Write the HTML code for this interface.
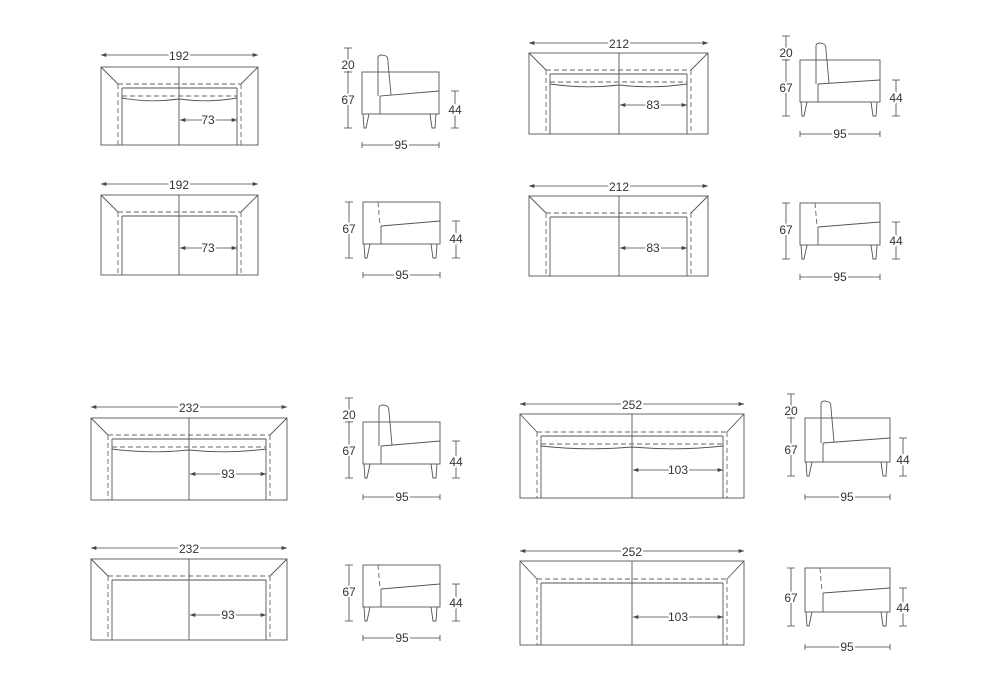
<!DOCTYPE html>
<html><head><meta charset="utf-8"><style>
html,body{margin:0;padding:0;background:#fff}
svg{display:block}
text{font-family:"Liberation Sans",sans-serif;font-size:12px;fill:#333;text-anchor:middle;stroke:#fff;stroke-width:4px;paint-order:stroke;stroke-linejoin:round}
.l{fill:none;stroke:#555;stroke-width:0.9}
.d{fill:none;stroke:#666;stroke-width:0.9;stroke-dasharray:5 3}
.m{fill:none;stroke:#444;stroke-width:0.8}
</style></head><body>
<svg width="1000" height="700" viewBox="0 0 1000 700" xmlns="http://www.w3.org/2000/svg">
<defs>
<marker id="a" viewBox="0 0 8 6" refX="8" refY="3" markerWidth="7" markerHeight="5" orient="auto-start-reverse"><path d="M0 0 L8 3 L0 6 z" fill="#444"/></marker>
</defs>

<!-- A -->
<g>
<rect class="l" x="101" y="67" width="157" height="78"/>
<path class="l" d="M101 67 L118 84 M258 67 L241 84 M122 88 V145 M237 88 V145 M122 88 H237 M179 67 V145"/>
<path class="d" d="M118 84 V145 M241 84 V145 M118 84 H241 M122 96 H237"/>
<path class="l" d="M122 98 Q150 103 179 99 Q208 103 237 98"/>
<line class="m" x1="101" y1="55" x2="258" y2="55" marker-start="url(#a)" marker-end="url(#a)"/>
<text x="179" y="60">192</text>
<line class="m" x1="180" y1="120" x2="237" y2="120" marker-start="url(#a)" marker-end="url(#a)"/>
<text x="208" y="124">73</text>
</g>
<!-- B -->
<g>
<rect class="l" x="101" y="195" width="157" height="80"/>
<path class="l" d="M101 195 L118 212 M258 195 L241 212 M122 216 V275 M237 216 V275 M122 216 H237 M179 195 V275"/>
<path class="d" d="M118 212 V275 M241 212 V275 M118 212 H241"/>
<line class="m" x1="101" y1="184" x2="258" y2="184" marker-start="url(#a)" marker-end="url(#a)"/>
<text x="179" y="189">192</text>
<line class="m" x1="180" y1="248" x2="237" y2="248" marker-start="url(#a)" marker-end="url(#a)"/>
<text x="208" y="252">73</text>
</g>
<!-- C -->
<g>
<rect class="l" x="529" y="53" width="179" height="81"/>
<path class="l" d="M529 53 L546 70 M708 53 L691 70 M550 74 V134 M687 74 V134 M550 74 H687 M619 53 V134"/>
<path class="d" d="M546 70 V134 M691 70 V134 M546 70 H691 M550 82 H687"/>
<path class="l" d="M550 84 Q585 89 619 85 Q653 89 687 84"/>
<line class="m" x1="529" y1="43" x2="708" y2="43" marker-start="url(#a)" marker-end="url(#a)"/>
<text x="619" y="48">212</text>
<line class="m" x1="620" y1="105" x2="687" y2="105" marker-start="url(#a)" marker-end="url(#a)"/>
<text x="653" y="109">83</text>
</g>
<!-- D -->
<g>
<rect class="l" x="529" y="196" width="179" height="80"/>
<path class="l" d="M529 196 L546 213 M708 196 L691 213 M550 217 V276 M687 217 V276 M550 217 H687 M619 196 V276"/>
<path class="d" d="M546 213 V276 M691 213 V276 M546 213 H691"/>
<line class="m" x1="529" y1="186" x2="708" y2="186" marker-start="url(#a)" marker-end="url(#a)"/>
<text x="619" y="191">212</text>
<line class="m" x1="620" y1="248" x2="687" y2="248" marker-start="url(#a)" marker-end="url(#a)"/>
<text x="653" y="252">83</text>
</g>
<!-- E -->
<g>
<rect class="l" x="91" y="418" width="196" height="82"/>
<path class="l" d="M91 418 L108 435 M287 418 L270 435 M112 439 V500 M266 439 V500 M112 439 H266 M189 418 V500"/>
<path class="d" d="M108 435 V500 M270 435 V500 M108 435 H270 M112 447 H266"/>
<path class="l" d="M112 449 Q150 454 189 450 Q228 454 266 449"/>
<line class="m" x1="91" y1="407" x2="287" y2="407" marker-start="url(#a)" marker-end="url(#a)"/>
<text x="189" y="412">232</text>
<line class="m" x1="190" y1="474" x2="266" y2="474" marker-start="url(#a)" marker-end="url(#a)"/>
<text x="228" y="478">93</text>
</g>
<!-- F -->
<g>
<rect class="l" x="91" y="559" width="196" height="81"/>
<path class="l" d="M91 559 L108 576 M287 559 L270 576 M112 580 V640 M266 580 V640 M112 580 H266 M189 559 V640"/>
<path class="d" d="M108 576 V640 M270 576 V640 M108 576 H270"/>
<line class="m" x1="91" y1="548" x2="287" y2="548" marker-start="url(#a)" marker-end="url(#a)"/>
<text x="189" y="553">232</text>
<line class="m" x1="190" y1="615" x2="266" y2="615" marker-start="url(#a)" marker-end="url(#a)"/>
<text x="228" y="619">93</text>
</g>
<!-- G -->
<g>
<rect class="l" x="520" y="414" width="224" height="84"/>
<path class="l" d="M520 414 L537 432 M744 414 L727 432 M541 436 V498 M723 436 V498 M541 436 H723 M632 414 V498"/>
<path class="d" d="M537 432 V498 M727 432 V498 M537 432 H727 M541 444 H723"/>
<path class="l" d="M541 446 Q586 451 632 447 Q678 451 723 446"/>
<line class="m" x1="520" y1="404" x2="744" y2="404" marker-start="url(#a)" marker-end="url(#a)"/>
<text x="632" y="409">252</text>
<line class="m" x1="633" y1="470" x2="723" y2="470" marker-start="url(#a)" marker-end="url(#a)"/>
<text x="678" y="474">103</text>
</g>
<!-- H -->
<g>
<rect class="l" x="520" y="561" width="224" height="84"/>
<path class="l" d="M520 561 L537 579 M744 561 L727 579 M541 583 V645 M723 583 V645 M541 583 H723 M632 561 V645"/>
<path class="d" d="M537 579 V645 M727 579 V645 M537 579 H727"/>
<line class="m" x1="520" y1="551" x2="744" y2="551" marker-start="url(#a)" marker-end="url(#a)"/>
<text x="632" y="556">252</text>
<line class="m" x1="633" y1="617" x2="723" y2="617" marker-start="url(#a)" marker-end="url(#a)"/>
<text x="678" y="621">103</text>
</g>

<!-- side views with back -->
<g transform="translate(362,72)">
<rect class="l" x="0" y="0" width="77" height="42"/>
<path class="l" d="M16 24 L16 -14 Q16 -17 20 -17 L24 -16 Q26 -15 26 -10 L29 23 M18 24 L18 42 M18 24 L77 19 M1 42 L2 56 L4 56 L7 42 M68 42 L70 56 L73 56 L74 42"/>
<path class="m" d="M-14 -24 V56 M-18 -24 H-10 M-18 0 H-10 M-18 56 H-10 M93 19 V56 M89 19 H97 M89 56 H97 M0 73 H77 M0 70 V76 M77 70 V76"/>
<text x="-14" y="-3">20</text><text x="-14" y="32">67</text><text x="93" y="42">44</text><text x="39" y="77">95</text>
</g>
<g transform="translate(800,60)">
<rect class="l" x="0" y="0" width="80" height="42"/>
<path class="l" d="M16 24 L16 -14 Q16 -17 20 -17 L24 -16 Q26 -15 26 -10 L29 23 M18 24 L18 42 M18 24 L80 20 M1 42 L2 56 L4 56 L7 42 M71 42 L73 56 L76 56 L77 42"/>
<path class="m" d="M-14 -24 V56 M-18 -24 H-10 M-18 0 H-10 M-18 56 H-10 M96 20 V56 M92 20 H100 M92 56 H100 M0 74 H80 M0 71 V77 M80 71 V77"/>
<text x="-14" y="-3">20</text><text x="-14" y="32">67</text><text x="96" y="42">44</text><text x="40" y="78">95</text>
</g>
<g transform="translate(363,422)">
<rect class="l" x="0" y="0" width="77" height="42"/>
<path class="l" d="M16 24 L16 -14 Q16 -17 20 -17 L24 -16 Q26 -15 26 -10 L29 23 M18 24 L18 42 M18 24 L77 19 M1 42 L2 56 L4 56 L7 42 M68 42 L70 56 L73 56 L74 42"/>
<path class="m" d="M-14 -24 V56 M-18 -24 H-10 M-18 0 H-10 M-18 56 H-10 M93 19 V56 M89 19 H97 M89 56 H97 M0 75 H77 M0 72 V78 M77 72 V78"/>
<text x="-14" y="-3">20</text><text x="-14" y="33">67</text><text x="93" y="44">44</text><text x="39" y="79">95</text>
</g>
<g transform="translate(805,418)">
<rect class="l" x="0" y="0" width="85" height="44"/>
<path class="l" d="M16 25 L16 -14 Q16 -17 20 -17 L24 -16 Q26 -15 26 -10 L29 24 M18 25 L18 44 M18 25 L85 20 M1 44 L2 58 L4 58 L7 44 M76 44 L78 58 L81 58 L82 44"/>
<path class="m" d="M-14 -24 V58 M-18 -24 H-10 M-18 0 H-10 M-18 58 H-10 M98 20 V58 M94 20 H102 M94 58 H102 M0 79 H85 M0 76 V82 M85 76 V82"/>
<text x="-14" y="-3">20</text><text x="-14" y="36">67</text><text x="98" y="46">44</text><text x="42" y="83">95</text>
</g>

<!-- side views without back -->
<g transform="translate(363,202)">
<rect class="l" x="0" y="0" width="77" height="42"/>
<path class="l" d="M18 24 L18 42 M18 24 L77 19 M1 42 L2 56 L4 56 L7 42 M68 42 L70 56 L73 56 L74 42"/>
<path class="d" d="M15 0 L17 23"/>
<path class="m" d="M-14 0 V56 M-18 0 H-10 M-18 56 H-10 M93 19 V56 M89 19 H97 M89 56 H97 M0 73 H77 M0 70 V76 M77 70 V76"/>
<text x="-14" y="31">67</text><text x="93" y="41">44</text><text x="39" y="77">95</text>
</g>
<g transform="translate(800,203)">
<rect class="l" x="0" y="0" width="80" height="42"/>
<path class="l" d="M18 24 L18 42 M18 24 L80 19 M1 42 L2 56 L4 56 L7 42 M71 42 L73 56 L76 56 L77 42"/>
<path class="d" d="M15 0 L17 23"/>
<path class="m" d="M-14 0 V56 M-18 0 H-10 M-18 56 H-10 M96 19 V56 M92 19 H100 M92 56 H100 M0 74 H80 M0 71 V77 M80 71 V77"/>
<text x="-14" y="31">67</text><text x="96" y="42">44</text><text x="40" y="78">95</text>
</g>
<g transform="translate(363,565)">
<rect class="l" x="0" y="0" width="77" height="42"/>
<path class="l" d="M18 24 L18 42 M18 24 L77 19 M1 42 L2 56 L4 56 L7 42 M68 42 L70 56 L73 56 L74 42"/>
<path class="d" d="M15 0 L17 23"/>
<path class="m" d="M-14 0 V56 M-18 0 H-10 M-18 56 H-10 M93 19 V56 M89 19 H97 M89 56 H97 M0 73 H77 M0 70 V76 M77 70 V76"/>
<text x="-14" y="31">67</text><text x="93" y="42">44</text><text x="39" y="77">95</text>
</g>
<g transform="translate(805,568)">
<rect class="l" x="0" y="0" width="85" height="44"/>
<path class="l" d="M18 25 L18 44 M18 25 L85 20 M1 44 L2 58 L4 58 L7 44 M76 44 L78 58 L81 58 L82 44"/>
<path class="d" d="M15 0 L17 24"/>
<path class="m" d="M-14 0 V58 M-18 0 H-10 M-18 58 H-10 M98 20 V58 M94 20 H102 M94 58 H102 M0 79 H85 M0 76 V82 M85 76 V82"/>
<text x="-14" y="34">67</text><text x="98" y="44">44</text><text x="42" y="83">95</text>
</g>
</svg>
</body></html>
